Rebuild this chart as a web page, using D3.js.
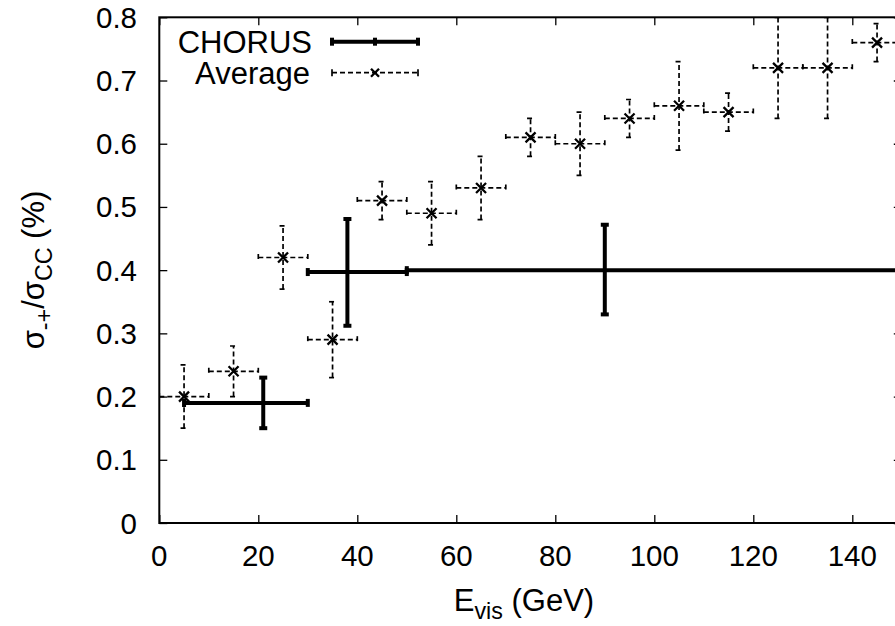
<!DOCTYPE html>
<html><head><meta charset="utf-8">
<script src="https://cdn.jsdelivr.net/npm/d3@7"></script>
<style>body{margin:0;background:#fff;} svg{display:block;} text{font-family:"Liberation Sans",Arial,Helvetica,sans-serif;fill:#000;}</style>
</head><body>
<svg id="c" width="895" height="626"></svg>
<script>
// Average data (bins of 10 GeV)
const avgX    = [5, 15, 25, 35, 45, 55, 65, 75, 85, 95, 105, 115, 125, 135, 145];
const avgXlo  = [0, 10, 20, 30, 40, 50, 60, 70, 80, 90, 100, 110, 120, 130, 140];
const avgXhi  = [10, 20, 30, 40, 50, 60, 70, 80, 90, 100, 110, 120, 130, 140, 150];
const avgY    = [0.20, 0.24, 0.42, 0.29, 0.51, 0.49, 0.53, 0.61, 0.60, 0.64, 0.66, 0.65, 0.72, 0.72, 0.76];
const avgYlo  = [0.15, 0.20, 0.37, 0.23, 0.48, 0.44, 0.48, 0.58, 0.55, 0.61, 0.59, 0.62, 0.64, 0.64, 0.73];
const avgYhi  = [0.25, 0.28, 0.47, 0.35, 0.54, 0.54, 0.58, 0.64, 0.65, 0.67, 0.73, 0.68, 0.80, 0.80, 0.79];
// CHORUS data
const chX   = [21, 38, 90];
const chXlo = [5, 30, 50];
const chXhi = [30, 50, 150];
const chY   = [0.19, 0.397, 0.40];
const chYlo = [0.15, 0.312, 0.33];
const chYhi = [0.23, 0.481, 0.472];
// ticks
const xTicks = [0, 20, 40, 60, 80, 100, 120, 140];
const yTicks = [0, 0.1, 0.2, 0.3, 0.4, 0.5, 0.6, 0.7, 0.8];
const yTickLabels = ["0", "0.1", "0.2", "0.3", "0.4", "0.5", "0.6", "0.7", "0.8"];

const svg = d3.select("#c");
const L = 159.3, R = 901.8, T = 17.3, B = 523;
const x = d3.scaleLinear().domain([0, 150]).range([L, R]);
const y = d3.scaleLinear().domain([0, 0.8]).range([B, T]);
const FT = 29.5;   // tick font
const FL = 31;     // label/legend font

const g = svg.append("g");
svg.append("clipPath").attr("id","pc").append("rect")
  .attr("x", L).attr("y", T).attr("width", R-L).attr("height", B-T);

// axes (tick marks only via d3 axes)
const axB = d3.axisBottom(x).tickValues(xTicks).tickSize(-8).tickFormat("");
const axT = d3.axisTop(x).tickValues(xTicks).tickSize(-8).tickFormat("");
const axL = d3.axisLeft(y).tickValues(yTicks).tickSize(-8).tickFormat("");
const axR = d3.axisRight(y).tickValues(yTicks).tickSize(-8).tickFormat("");
function style(sel){ sel.select(".domain").remove(); sel.selectAll("line").attr("stroke","#000").attr("stroke-width",1.3); }
g.append("g").attr("transform",`translate(0,${B})`).call(axB).call(style);
g.append("g").attr("transform",`translate(0,${T})`).call(axT).call(style);
g.append("g").attr("transform",`translate(${L},0)`).call(axL).call(style);
g.append("g").attr("transform",`translate(${R},0)`).call(axR).call(style);
g.append("rect").attr("x",L).attr("y",T).attr("width",R-L).attr("height",B-T)
  .attr("fill","none").attr("stroke","#000").attr("stroke-width",2);

// tick labels
g.selectAll(".xt").data(xTicks).enter().append("text")
  .attr("x", d=>x(d)).attr("y", 566).attr("text-anchor","middle").attr("font-size",FT).text(d=>d);
g.selectAll(".yt").data(yTicks).enter().append("text")
  .attr("x", 137).attr("y", d=>y(d)+10.5).attr("text-anchor","end").attr("font-size",FT)
  .text((d,i)=>yTickLabels[i]);

const P = svg.append("g").attr("clip-path","url(#pc)");

// Average error bars
const dash = "5,3";
const avg = avgX.map((d,i)=>({x:d,xl:avgXlo[i],xh:avgXhi[i],y:avgY[i],yl:avgYlo[i],yh:avgYhi[i]}));
const ag = P.append("g").attr("stroke","#000").attr("stroke-width",1.7).attr("stroke-dasharray",dash).attr("fill","none");
const cap = 3.5;
avg.forEach(d=>{
  ag.append("line").attr("x1",x(d.xl)).attr("x2",x(d.xh)).attr("y1",y(d.y)).attr("y2",y(d.y));
  ag.append("line").attr("x1",x(d.x)).attr("x2",x(d.x)).attr("y1",y(d.yl)).attr("y2",y(d.yh));
  [d.xl,d.xh].forEach(v=>ag.append("line").attr("x1",x(v)).attr("x2",x(v)).attr("y1",y(d.y)-cap).attr("y2",y(d.y)+cap));
  [d.yl,d.yh].forEach(v=>ag.append("line").attr("x1",x(d.x)-cap).attr("x2",x(d.x)+cap).attr("y1",y(v)).attr("y2",y(v)));
});
const mk = 5;
const mg = P.append("g").attr("stroke","#000").attr("stroke-width",2.3);
avg.forEach(d=>{
  const cx=x(d.x), cy=y(d.y);
  mg.append("path").attr("d",`M${cx-mk},${cy-mk}L${cx+mk},${cy+mk}M${cx-mk},${cy+mk}L${cx+mk},${cy-mk}`);
});

// CHORUS error bars
const ch = chX.map((d,i)=>({x:d,xl:chXlo[i],xh:chXhi[i],y:chY[i],yl:chYlo[i],yh:chYhi[i]}));
const cg = P.append("g").attr("stroke","#000").attr("stroke-width",4).attr("fill","none");
const cc = 4;
ch.forEach(d=>{
  cg.append("line").attr("x1",x(d.xl)).attr("x2",x(d.xh)).attr("y1",y(d.y)).attr("y2",y(d.y));
  cg.append("line").attr("x1",x(d.x)).attr("x2",x(d.x)).attr("y1",y(d.yl)).attr("y2",y(d.yh));
  [d.xl,d.xh].forEach(v=>cg.append("line").attr("x1",x(v)).attr("x2",x(v)).attr("y1",y(d.y)-cc).attr("y2",y(d.y)+cc));
  [d.yl,d.yh].forEach(v=>cg.append("line").attr("x1",x(d.x)-cc).attr("x2",x(d.x)+cc).attr("y1",y(v)).attr("y2",y(v)));
});

// legend
const lg = svg.append("g");
const lx1 = 332, lx2 = 418;
lg.append("text").attr("x",312).attr("y",52.5).attr("text-anchor","end").attr("font-size",FL).text("CHORUS");
lg.append("text").attr("x",310).attr("y",83.5).attr("text-anchor","end").attr("font-size",FL).text("Average");
const ly1 = 41.7, ly2 = 72.7;
lg.append("line").attr("x1",lx1).attr("x2",lx2).attr("y1",ly1).attr("y2",ly1).attr("stroke","#000").attr("stroke-width",4);
[lx1,(lx1+lx2)/2,lx2].forEach(v=>lg.append("line").attr("x1",v).attr("x2",v).attr("y1",ly1-cc).attr("y2",ly1+cc).attr("stroke","#000").attr("stroke-width",4));
lg.append("line").attr("x1",lx1).attr("x2",lx2).attr("y1",ly2).attr("y2",ly2).attr("stroke","#000").attr("stroke-width",1.7).attr("stroke-dasharray",dash);
[lx1,lx2].forEach(v=>lg.append("line").attr("x1",v).attr("x2",v).attr("y1",ly2-cap).attr("y2",ly2+cap).attr("stroke","#000").attr("stroke-width",1.7));
const lm=(lx1+lx2)/2;
lg.append("path").attr("d",`M${lm-4},${ly2-4}L${lm+4},${ly2+4}M${lm-4},${ly2+4}L${lm+4},${ly2-4}`).attr("stroke","#000").attr("stroke-width",2.3);

// axis labels
const xl = svg.append("text").attr("x",524).attr("y",611).attr("text-anchor","middle").attr("font-size",FL);
xl.append("tspan").text("E");
xl.append("tspan").attr("font-size",FL*0.75).attr("dy",8).text("vis");
xl.append("tspan").attr("dy",-8).text(" (GeV)");

const yl = svg.append("text").attr("transform","translate(44,270) rotate(-90)").attr("text-anchor","middle").attr("font-size",FL);
yl.append("tspan").text("σ");
yl.append("tspan").attr("font-size",FL*0.75).attr("dy",8).text("-+");
yl.append("tspan").attr("dy",-8).text("/σ");
yl.append("tspan").attr("font-size",FL*0.75).attr("dy",8).text("CC");
yl.append("tspan").attr("dy",-8).text(" (%)");
</script>
</body></html>
